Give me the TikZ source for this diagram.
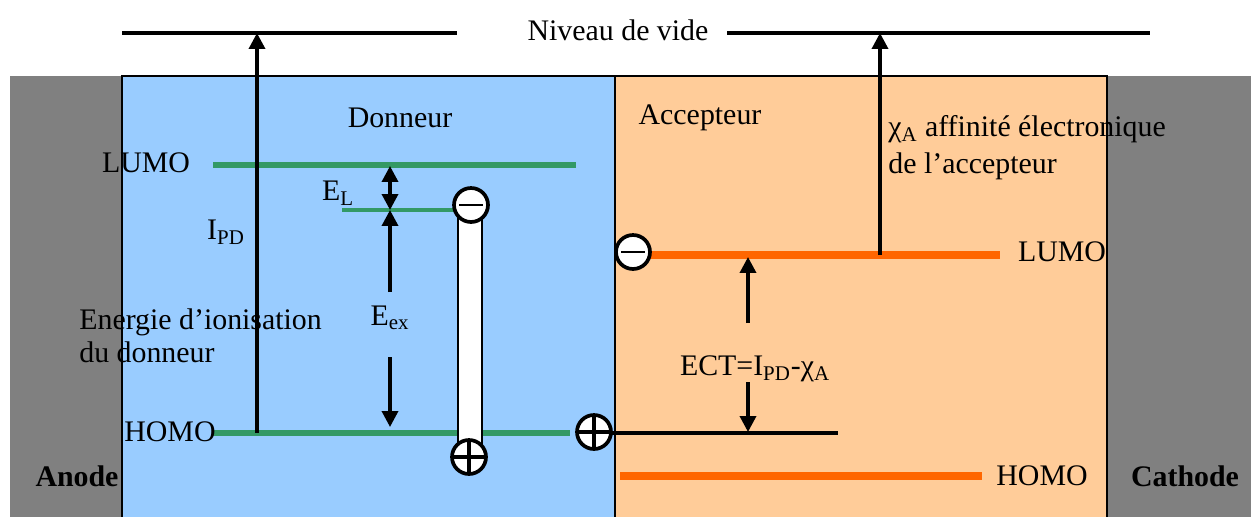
\documentclass[tikz,border=0pt]{standalone}
\usepackage{fontspec}
\setmainfont{Liberation Serif}
\usetikzlibrary{arrows.meta}
\definecolor{DonBlue}{HTML}{99CCFF}
\definecolor{AccPeach}{HTML}{FFCC99}
\definecolor{ElecGray}{HTML}{808080}
\definecolor{LevGreen}{HTML}{339966}
\definecolor{LevOrange}{HTML}{FF6600}

\begin{document}
\begin{tikzpicture}[x=0.02cm,y=-0.02cm,
    txt/.style={font=\fontsize{17}{20}\selectfont,inner sep=0pt},
    arr/.style={-{Triangle[length=3.2mm,width=3.2mm]},line width=2pt},
    darr/.style={{Triangle[length=3.2mm,width=3.2mm]}-{Triangle[length=3.2mm,width=3.2mm]},line width=2pt},
    lev/.style={line width=3.8pt},
    charge/.style={circle,draw,line width=2.1pt,fill=white,minimum size=0.68cm,inner sep=0pt},
    elec/.style={charge,path picture={\draw[line width=1.2pt] ([xshift=-2.4mm]path picture bounding box.center) -- ([xshift=2.4mm]path picture bounding box.center);}},
    hole/.style={charge,path picture={\draw[line width=2pt] (path picture bounding box.north) -- (path picture bounding box.south) (path picture bounding box.west) -- (path picture bounding box.east);}}
  ]
    \useasboundingbox (0,0) rectangle (1251,517);

    % electrodes and layers
    \fill[ElecGray] (10,76) rectangle (122,517);
    \fill[ElecGray] (1107,76) rectangle (1251,517);
    \draw[fill=DonBlue,line width=0.9pt] (122,517) -- (122,76) -- (615,76) -- (615,517);
    \draw[fill=AccPeach,line width=0.9pt] (615,517) -- (615,76) -- (1107,76) -- (1107,517);

    % vacuum level
    \node[txt] (vide) at (618,30) {Niveau de vide};
    \draw[line width=2.5pt] (122,33) -- (457,33);
    \draw[line width=2.5pt] (727,33) -- (1150,33);

    % donor levels
    \draw[lev,LevGreen] (213,165) -- (576,165);
    \draw[line width=2pt,LevGreen] (342,210) -- (455,210);
    \draw[lev,LevGreen] (213,433) -- (570,433);
    % acceptor levels
    \draw[line width=4.4pt,LevOrange] (650,255) -- (1000,255);
    \draw[line width=2.6pt] (612,433) -- (838,433);
    \draw[line width=4.4pt,LevOrange] (620,476) -- (982,476);

    \coordinate (vacD) at (257,33);
    \coordinate (homoD) at (257,433);
    \coordinate (vacA) at (880,33);
    \coordinate (lumoA) at (880,255);
    \coordinate (lumoTop) at (390,166);
    \coordinate (excLev) at (390,210);
    \coordinate (exUp) at (390,292);
    \coordinate (exDn) at (390,357);
    \coordinate (exBot) at (390,427);
    \coordinate (ctUp) at (748,323);
    \coordinate (ctTip) at (748,257);
    \coordinate (ctDn) at (748,382);
    \coordinate (ctBot) at (748,432);

    % exciton
    \draw[fill=white,line width=1.4pt] (458,205) rectangle (482,455);
    \node[elec] (eD) at (471,205) {};
    \node[hole] (hD) at (469,457) {};
    \node[hole] (hI) at (594,432) {};
    \node[elec] (eA) at (633,252) {};

    % energies
    \draw[arr] (homoD) -- (vacD);
    \draw[arr] (lumoA) -- (vacA);
    \draw[darr] (lumoTop) -- (excLev);
    \draw[arr] (exUp) -- (excLev);
    \draw[arr] (exDn) -- (exBot);
    \draw[arr] (ctUp) -- (ctTip);
    \draw[arr] (ctDn) -- (ctBot);

    % labels
    \node[txt] (don) at (400,118) {Donneur};
    \node[txt] (acc) at (700,118) {Accepteur};
    \node[txt] (lumoDL) at (146,163) {LUMO};
    \node[txt] (homoDL) at (170,432) {HOMO};
    \node[txt] (lumoAL) at (1062,252) {LUMO};
    \node[txt] (homoAL) at (1042,476) {HOMO};
    \node[txt] (eL) at (338,193) {E\textsubscript{L}};
    \node[txt] (ipd) at (226,232) {I\textsubscript{PD}};
    \node[txt] (eex) at (390,318) {E\textsubscript{ex}};
    \node[txt,anchor=west,align=left,font=\fontsize{17}{19}\selectfont] (ion) at (79,336) {Energie d’ionisation\\du donneur};
    \node[txt,anchor=west,align=left,font=\fontsize{17}{21}\selectfont] (chi) at (888,148) {χ\textsubscript{A} affinité électronique\\de l’accepteur};
    \node[txt] (ect) at (755,369) {ECT=I\textsubscript{PD}-χ\textsubscript{A}};
    \node[txt,font=\fontsize{17}{20}\selectfont\bfseries] (anode) at (77,476) {Anode};
    \node[txt,font=\fontsize{17}{20}\selectfont\bfseries] (cathode) at (1185,476) {Cathode};
  \end{tikzpicture}
\end{document}
